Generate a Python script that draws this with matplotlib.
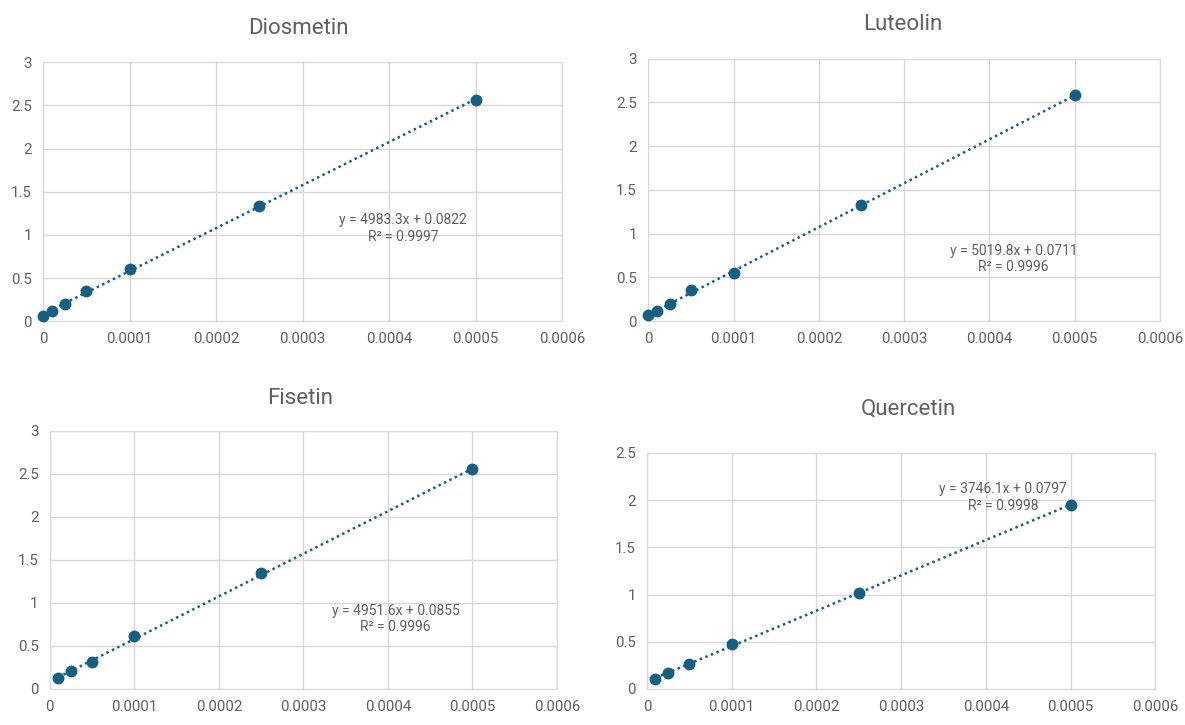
import numpy as np
import matplotlib.pyplot as plt

plt.rcParams['font.family'] = ['Roboto', 'DejaVu Sans']

# calibration data
names = ['Diosmetin', 'Luteolin', 'Fisetin', 'Quercetin']
x_dio = [0, 0.00001, 0.000025, 0.00005, 0.0001, 0.00025, 0.0005]
y_dio = [0.065, 0.12, 0.195, 0.35, 0.60, 1.335, 2.56]
x_lut = [0, 0.00001, 0.000025, 0.00005, 0.0001, 0.00025, 0.0005]
y_lut = [0.065, 0.115, 0.195, 0.36, 0.55, 1.33, 2.58]
x_fis = [0.00001, 0.000025, 0.00005, 0.0001, 0.00025, 0.0005]
y_fis = [0.13, 0.205, 0.315, 0.61, 1.345, 2.56]
x_que = [0.00001, 0.000025, 0.00005, 0.0001, 0.00025, 0.0005]
y_que = [0.11, 0.17, 0.265, 0.475, 1.015, 1.95]
slopes = [4983.3, 5019.8, 4951.6, 3746.1]
intercepts = [0.0822, 0.0711, 0.0855, 0.0797]
r2 = ['0.9997', '0.9996', '0.9996', '0.9998']
y_max = [3, 3, 3, 2.5]

xs = [x_dio, x_lut, x_fis, x_que]
ys = [y_dio, y_lut, y_fis, y_que]

# layout (figure fractions) and label spots
axes_pos = [[0.0363, 0.557, 0.438, 0.357],
            [0.547, 0.557, 0.432, 0.362],
            [0.042, 0.0497, 0.428, 0.356],
            [0.546, 0.0497, 0.429, 0.3255]]
title_pos = [(298, 28), (903, 25), (300, 398), (908, 409)]
eq_pos = [(0.000416, 1.07), (0.000428, 0.71), (0.000409, 0.814), (0.00042, 2.03)]

col = '#156082'
grid = '#d9d9d9'
txt = '#606060'

fig = plt.figure(figsize=(11.85, 7.25), dpi=100)

for i in range(4):
    ax = fig.add_axes(axes_pos[i])
    x = np.array(xs[i])
    xl = np.array([x.min(), x.max()])
    ax.plot(xl, slopes[i] * xl + intercepts[i], linestyle=(0, (1, 1.4)),
            color=col, lw=1.8, zorder=2)
    ax.plot(xs[i], ys[i], 'o', color=col, ms=7.5, zorder=3, clip_on=False)
    ax.set_xlim(0, 0.0006)
    ax.set_ylim(0, y_max[i])
    ax.set_xticks(np.arange(0, 0.00061, 0.0001))
    ax.set_xticklabels(['0', '0.0001', '0.0002', '0.0003', '0.0004', '0.0005', '0.0006'])
    yt = np.arange(0, y_max[i] + 0.01, 0.5)
    ax.set_yticks(yt)
    ax.set_yticklabels(['%g' % v for v in yt])
    ax.grid(True, color=grid, lw=1)
    ax.set_axisbelow(True)
    for s in ax.spines.values():
        s.set_color(grid)
    ax.tick_params(length=0, labelsize=10.8, colors=txt, pad=8)
    ax.text(eq_pos[i][0], eq_pos[i][1],
            'y = %.1fx + %.4f\nR² = %s' % (slopes[i], intercepts[i], r2[i]),
            ha='center', va='center', fontsize=10, color=txt, linespacing=1.25)
    fig.text(title_pos[i][0] / 1185, 1 - title_pos[i][1] / 725, names[i],
             ha='center', va='center', fontsize=16, color=txt)

fig.savefig('out.png', dpi=100)
